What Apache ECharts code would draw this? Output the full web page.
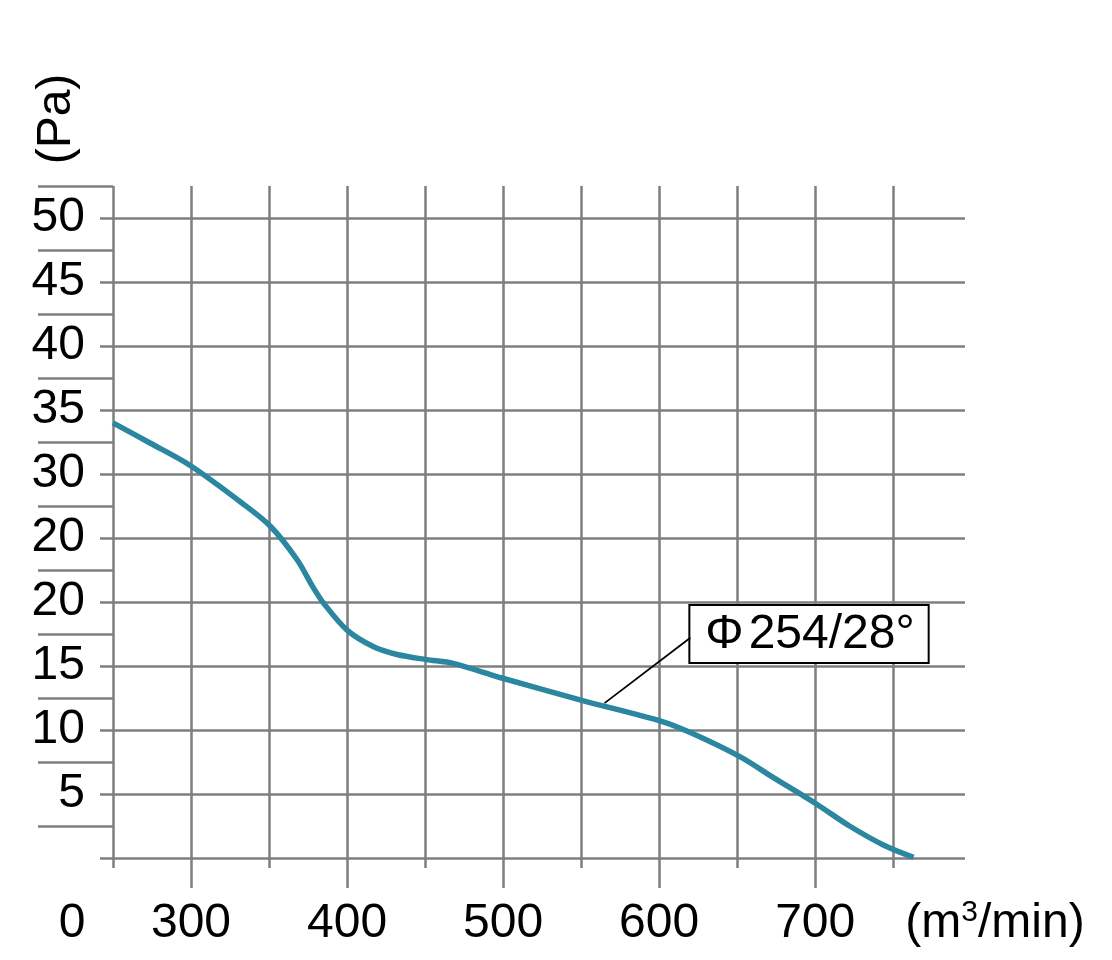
<!DOCTYPE html>
<html style="height: 100%" lang="en">
<head>
    <meta charset="UTF-8">
    <title>Φ254/28° fan curve</title>
</head>
<body style="height: 100%; margin: 0; background: #fff">
<div id="main" style="width: 1112px; height: 960px;"></div>

<script src="https://cdn.jsdelivr.net/npm/echarts@6/dist/echarts.min.js"></script>
<script type="text/javascript">

    // air flow (m3/min) and static pressure (Pa)
    var flow     = [250, 274, 299, 333, 351, 368, 378, 385, 400, 417, 432, 451, 468, 498, 551, 601, 620, 652, 673, 701, 722, 744, 763];
    var pressure = [34.0, 32.4, 30.7, 27.7, 25.9, 23.3, 21.2, 19.9, 17.8, 16.5, 15.9, 15.5, 15.2, 14.1, 12.3, 10.7, 9.8, 7.9, 6.3, 4.2, 2.5, 1.0, 0.05];

    // tick labels as printed on the sheet (value 25 is printed "20")
    var yTickValues = [5, 10, 15, 20, 25, 30, 35, 40, 45, 50];
    var yTickLabels = ['5', '10', '15', '20', '20', '30', '35', '40', '45', '50'];
    var xTickValues = [300, 400, 500, 600, 700];
    var xTickLabels = ['300', '400', '500', '600', '700'];

    // grid lines
    var xGridValues = [250, 300, 350, 400, 450, 500, 550, 600, 650, 700, 750];
    var yShortTicks = [0, 5, 10, 15, 20, 25, 30, 35, 40, 45, 50];
    var yLongTicks  = [2.5, 7.5, 12.5, 17.5, 22.5, 27.5, 32.5, 37.5, 42.5, 47.5, 52.5];

    // callout
    var calloutText   = '{p|Φ}254/28°';
    var calloutAnchor = [565, 12.1];
    var calloutBox    = [620, 17.5];
    var calloutEnd    = [620, 17.2];

    var gridColor = '#7f7f7f';
    var gridWidth = 2.5;
    var font = '"Liberation Sans", Arial, sans-serif';

    var curve = [];
    for (var i = 0; i < flow.length; i++) {
        curve.push([flow[i], pressure[i]]);
    }

    function pick(values, labels) {
        return function (v) {
            var k = values.indexOf(v);
            return k < 0 ? '' : labels[k];
        };
    }

    var xBase = {type: 'value', min: 250, max: 796, position: 'bottom',
        axisLine: {show: false}, splitLine: {show: false}};
    var yBase = {type: 'value', min: 0, max: 52.5, position: 'left', axisLine: {show: false}};

    var myChart = echarts.init(document.getElementById('main'));
    var option = {
        animation: false,
        backgroundColor: '#fff',
        grid: {left: 113, right: 147, top: 186, bottom: 102},
        xAxis: [
            echarts.util.extend({
                axisTick: {show: true, inside: true, length: 672, customValues: xGridValues,
                    lineStyle: {color: gridColor, width: gridWidth}},
                axisLabel: {show: false}
            }, xBase),
            echarts.util.extend({
                axisTick: {show: true, length: 10, customValues: xGridValues,
                    lineStyle: {color: gridColor, width: gridWidth}},
                axisLabel: {show: false}
            }, xBase),
            echarts.util.extend({
                axisTick: {show: true, length: 30, customValues: xTickValues,
                    lineStyle: {color: gridColor, width: gridWidth}},
                axisLabel: {show: true, customValues: xTickValues, margin: 42,
                    formatter: pick(xTickValues, xTickLabels),
                    color: '#000', fontSize: 48, fontFamily: font}
            }, xBase)
        ],
        yAxis: [
            echarts.util.extend({
                interval: 2.5,
                splitLine: {show: true, lineStyle: {color: gridColor, width: gridWidth}},
                axisTick: {show: true, length: 13, customValues: yShortTicks,
                    lineStyle: {color: gridColor, width: gridWidth}},
                axisLabel: {show: true, customValues: yTickValues, margin: 28,
                    formatter: pick(yTickValues, yTickLabels),
                    color: '#000', fontSize: 48, fontFamily: font}
            }, yBase),
            echarts.util.extend({
                splitLine: {show: false},
                axisTick: {show: true, length: 75, customValues: yLongTicks,
                    lineStyle: {color: gridColor, width: gridWidth}},
                axisLabel: {show: false}
            }, yBase)
        ],
        graphic: [
            {type: 'text', x: 72, y: 924,
                style: {text: '0', fontSize: 48, fontFamily: font, fill: '#000',
                    align: 'center', verticalAlign: 'middle'}},
            {type: 'text', x: 995, y: 924,
                style: {text: '(m{s|3}/min)', fontSize: 48, fontFamily: font, fill: '#000',
                    align: 'center', verticalAlign: 'middle',
                    rich: {s: {fontSize: 30, fontFamily: font, fill: '#000', padding: [0, 0, 22, 0]}}}},
            {type: 'text', x: 57, y: 119, rotation: Math.PI / 2,
                style: {text: '(Pa)', fontSize: 48, fontFamily: font, fill: '#000',
                    align: 'center', verticalAlign: 'middle'}}
        ],
        series: [
            {
                name: 'Φ254/28°',
                type: 'line',
                xAxisIndex: 0,
                yAxisIndex: 0,
                data: curve,
                smooth: 0.3,
                showSymbol: false,
                lineStyle: {color: '#2a879f', width: 5.5},
                markLine: {
                    silent: true,
                    symbol: 'none',
                    label: {show: false},
                    lineStyle: {color: '#000', width: 1.8, type: 'solid', opacity: 1},
                    data: [[{coord: calloutAnchor}, {coord: calloutEnd}]]
                }
            },
            {
                type: 'scatter',
                xAxisIndex: 0,
                yAxisIndex: 0,
                silent: true,
                symbolSize: 0,
                itemStyle: {opacity: 1},
                data: [calloutBox],
                label: {
                    show: true,
                    position: 'right',
                    distance: 0,
                    formatter: calloutText,
                    color: '#000',
                    opacity: 1,
                    fontSize: 48,
                    fontFamily: font,
                    backgroundColor: '#fff',
                    borderColor: '#000',
                    borderWidth: 2,
                    padding: [5, 13, 3, 15],
                    rich: {
                        p: {color: '#000', fontSize: 48, fontFamily: font, padding: [0, 5, 0, 0]}
                    }
                }
            }
        ]
    };

    myChart.setOption(option);

</script>
</body>
</html>
